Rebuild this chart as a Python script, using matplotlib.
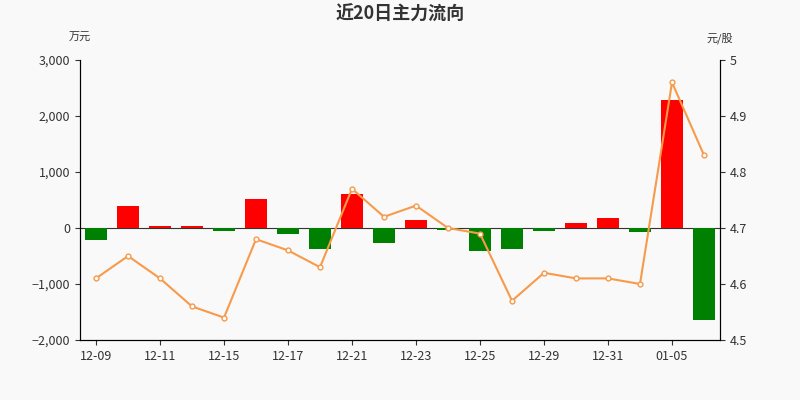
import matplotlib
matplotlib.use("Agg")
import matplotlib.pyplot as plt
import numpy as np

plt.rcParams["font.family"] = ["Noto Sans CJK SC", "DejaVu Sans"]

dates = ["12-09", "12-10", "12-11", "12-14", "12-15", "12-16", "12-17", "12-18",
         "12-21", "12-22", "12-23", "12-24", "12-25", "12-28", "12-29", "12-30",
         "12-31", "01-04", "01-05", "01-06"]
flow = [-220, 390, 40, 40, -50, 510, -100, -370, 610, -260,
        140, -40, -410, -380, -50, 90, 180, -80, 2290, -1650]
price = [4.61, 4.65, 4.61, 4.56, 4.54, 4.68, 4.66, 4.63, 4.77, 4.72,
         4.74, 4.70, 4.69, 4.57, 4.62, 4.61, 4.61, 4.60, 4.96, 4.83]

bg = "#f9f9f9"
fig = plt.figure(figsize=(8, 4), dpi=100, facecolor=bg)
ax = fig.add_axes([0.1, 0.15, 0.8, 0.7], facecolor=bg)
x = np.arange(len(dates))
colors = ["#ff0000" if v >= 0 else "#008000" for v in flow]
ax.bar(x, flow, width=0.7, color=colors, zorder=2)
ax.axhline(0, color="#333333", lw=0.8, zorder=1)
ax.set_ylim(-2000, 3000)
ax.set_xlim(-0.5, len(dates) - 0.5)
ax.set_yticks(range(-2000, 3001, 1000))
ax.set_yticklabels([f"{v:,}".replace("-", "\u2212") if v else "0" for v in range(-2000, 3001, 1000)])
ax.set_xticks(x[::2])
ax.set_xticklabels(dates[::2])
ax.tick_params(labelsize=9, colors="#333333")
for s in ["top"]:
    ax.spines[s].set_visible(False)

ax2 = ax.twinx()
ax2.plot(x, price, color="#f79a4a", lw=1.5, marker="o", ms=3.5,
         markerfacecolor="white", markeredgecolor="#f79a4a", zorder=3)
ax2.set_ylim(4.5, 5.0)
ax2.set_yticks([4.5, 4.6, 4.7, 4.8, 4.9, 5.0])
ax2.set_yticklabels(["4.5", "4.6", "4.7", "4.8", "4.9", "5"])
ax2.tick_params(labelsize=9, colors="#333333")
ax2.spines["top"].set_visible(False)

fig.text(0.5, 0.965, "近20日主力流向", ha="center", va="center", fontsize=13,
         fontweight="bold", color="#333333")
fig.text(0.1, 0.905, "万元", ha="center", va="center", fontsize=8, color="#333333")
fig.text(0.9, 0.905, "元/股", ha="center", va="center", fontsize=8, color="#333333")

fig.savefig("out.png", dpi=100, facecolor=bg)
